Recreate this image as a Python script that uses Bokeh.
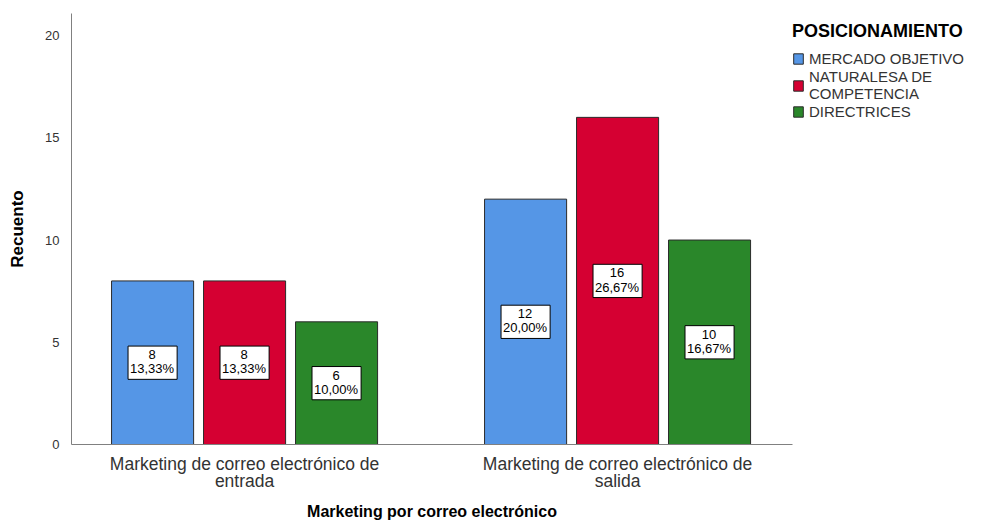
from bokeh.plotting import figure
from bokeh.models import ColumnDataSource, FixedTicker, Legend, LegendItem, Range1d
from bokeh.core.properties import value
from bokeh.embed import file_html
from bokeh.resources import INLINE

categories = ["Marketing de correo electrónico de\nentrada", "Marketing de correo electrónico de\nsalida"]
series = ["MERCADO OBJETIVO", "NATURALESA DE\nCOMPETENCIA", "DIRECTRICES"]
counts = {
    "MERCADO OBJETIVO": [8, 12],
    "NATURALESA DE\nCOMPETENCIA": [8, 16],
    "DIRECTRICES": [6, 10],
}
percents = {
    "MERCADO OBJETIVO": ["13,33%", "20,00%"],
    "NATURALESA DE\nCOMPETENCIA": ["13,33%", "26,67%"],
    "DIRECTRICES": ["10,00%", "16,67%"],
}
colors = ["#5596E6", "#D50032", "#2A872A"]
y_ticks = [0, 5, 10, 15, 20]

FONT = "Liberation Sans"

p = figure(frame_width=721, frame_height=431, output_backend="svg", toolbar_location=None,
           x_range=Range1d(0.536, 2.469), y_range=Range1d(0, 21.08),
           min_border_left=71, min_border_right=0, min_border_top=13, min_border_bottom=70)
p.outline_line_color = None
p.xgrid.visible = False
p.ygrid.visible = False

offsets = [-0.2466, 0.0, 0.2466]
bar_w = 0.22
xs_base = [1, 2]
items = []
for s, off, col in zip(series, offsets, colors):
    vals = counts[s]
    xs = [x + off for x in xs_base]
    src = ColumnDataSource(dict(x=xs, top=vals, mid=[v / 2 for v in vals],
                                lab=[f"{v}\n{pc}" for v, pc in zip(vals, percents[s])]))
    r = p.vbar(x="x", top="top", width=bar_w, bottom=0, source=src,
               fill_color=col, line_color="#2b2b2b", line_width=1)
    p.text(x="x", y="mid", text="lab", source=src, text_align="center", text_baseline="middle",
           text_font=value(FONT), text_font_size="13px", text_color="#000000",
           text_line_height=0.95,
           background_fill_color="white", border_line_color="#000000", border_line_width=1,
           padding=[2, 3, 1, 3])
    items.append(LegendItem(label=s, renderers=[r]))

# axes
p.xaxis.ticker = FixedTicker(ticks=xs_base)
p.xaxis.major_label_overrides = {1: categories[0], 2: categories[1]}
p.xaxis.major_label_text_font = FONT
p.xaxis.major_label_text_font_size = "17.5px"
p.xaxis.major_label_text_color = "#333333"
p.xaxis.major_label_text_line_height = 0.85
p.xaxis.major_label_standoff = 3
p.xaxis.major_tick_line_color = None
p.xaxis.minor_tick_line_color = None
p.xaxis.axis_line_color = "#808080"
p.xaxis.axis_label = "Marketing por correo electrónico"
p.xaxis.axis_label_text_font = FONT
p.xaxis.axis_label_text_font_style = "bold"
p.xaxis.axis_label_text_font_size = "16px"
p.xaxis.axis_label_text_color = "#000000"
p.xaxis.axis_label_standoff = 9

p.yaxis.ticker = FixedTicker(ticks=y_ticks)
p.yaxis.major_label_text_font = FONT
p.yaxis.major_label_text_font_size = "13px"
p.yaxis.major_label_text_color = "#333333"
p.yaxis.major_label_standoff = 6
p.yaxis.major_tick_line_color = None
p.yaxis.minor_tick_line_color = None
p.yaxis.axis_line_color = "#808080"
p.yaxis.axis_label = "Recuento"
p.yaxis.axis_label_text_font = FONT
p.yaxis.axis_label_text_font_style = "bold"
p.yaxis.axis_label_text_font_size = "17px"
p.yaxis.axis_label_text_color = "#000000"
p.yaxis.axis_label_standoff = 15

legend = Legend(items=items, location=(0, 324), title="POSICIONAMIENTO")
legend.title_text_font = FONT
legend.title_text_font_style = "bold"
legend.title_text_font_size = "18px"
legend.title_text_color = "#000000"
legend.label_text_font = FONT
legend.label_text_font_size = "15px"
legend.label_text_color = "#333333"
legend.label_text_line_height = 0.9
legend.glyph_width = 12
legend.glyph_height = 13
legend.label_height = 14
legend.label_standoff = 5
legend.spacing = 1
legend.padding = 0
legend.margin = 0
legend.title_standoff = 8
legend.border_line_color = None
legend.background_fill_alpha = 0
p.add_layout(legend, "right")

open("out.html", "w").write(file_html(p, INLINE))
